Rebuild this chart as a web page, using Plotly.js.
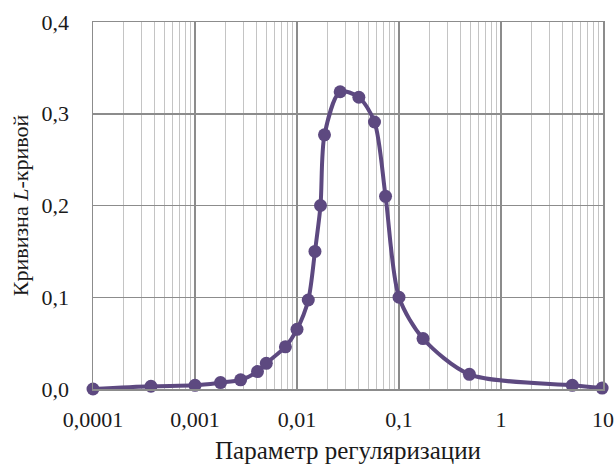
<!DOCTYPE html>
<html><head><meta charset="utf-8">
<script src="https://cdn.plot.ly/plotly-3.0.1.min.js"></script>
<style>html,body{margin:0;padding:0;background:#fff}</style>
</head><body>
<div id="chart" style="width:616px;height:466px"></div>
<script>
const lambdaVals = [0.0001, 0.00037, 0.001, 0.00178, 0.0028, 0.0041, 0.005, 0.0077, 0.01, 0.0129, 0.015, 0.017, 0.0186, 0.0265, 0.0404, 0.0575, 0.0738, 0.1, 0.172, 0.49, 5.0, 9.8];
const curvature  = [0.0, 0.003, 0.004, 0.007, 0.010, 0.019, 0.028, 0.046, 0.065, 0.097, 0.150, 0.200, 0.277, 0.324, 0.318, 0.291, 0.210, 0.100, 0.055, 0.016, 0.004, 0.001];
const xTickVals = [0.0001, 0.001, 0.01, 0.1, 1, 10];
const xTickText = ['0,0001', '0,001', '0,01', '0,1', '1', '10'];
const yTickVals = [0, 0.1, 0.2, 0.3, 0.4];
const yTickText = ['0,0', '0,1', '0,2', '0,3', '0,4'];
const minorVals = [];
for (let e = -4; e < 1; e++) for (let m = 2; m <= 9; m++) minorVals.push(m * Math.pow(10, e));

const purple = 'rgb(93,73,128)';
const fam = '"Liberation Serif", "Times New Roman", serif';
const font = {family: fam, size: 22, color: '#1a1a1a'};

Plotly.newPlot('chart', [{
  x: lambdaVals, y: curvature, type: 'scatter', mode: 'lines+markers', cliponaxis: false,
  line: {color: purple, width: 4, shape: 'spline', smoothing: 0.8},
  marker: {color: purple, size: 13}
}], {
  width: 616, height: 466,
  margin: {l: 93, r: 13, t: 22, b: 77},
  paper_bgcolor: '#fff', plot_bgcolor: '#fff',
  font: font, showlegend: false,
  xaxis: {
    type: 'log', range: [-4, 1], tickmode: 'array', tickvals: xTickVals, ticktext: xTickText,
    showgrid: true, gridcolor: '#8c8c8c', gridwidth: 1.5,
    minor: {tickmode: 'array', tickvals: minorVals, showgrid: true, gridcolor: '#c4c4c4', gridwidth: 1.2, ticks: ''},
    showline: true, linecolor: '#8c8c8c', linewidth: 1.5, mirror: true,
    ticks: '', ticklabelstandoff: 10, zeroline: false,
    title: {text: 'Параметр регуляризации', font: {family: fam, size: 25, color: '#1a1a1a'}, standoff: 10}
  },
  yaxis: {
    range: [0, 0.4], tickmode: 'array', tickvals: yTickVals, ticktext: yTickText,
    showgrid: true, gridcolor: '#8c8c8c', gridwidth: 1.5,
    showline: true, linecolor: '#8c8c8c', linewidth: 1.5, mirror: true,
    ticks: '', ticklabelstandoff: 18, zeroline: false,
    title: {text: 'Кривизна <i>L</i>-кривой', font: font, standoff: 7}
  }
}, {displayModeBar: false, staticPlot: true});
</script>
</body></html>
